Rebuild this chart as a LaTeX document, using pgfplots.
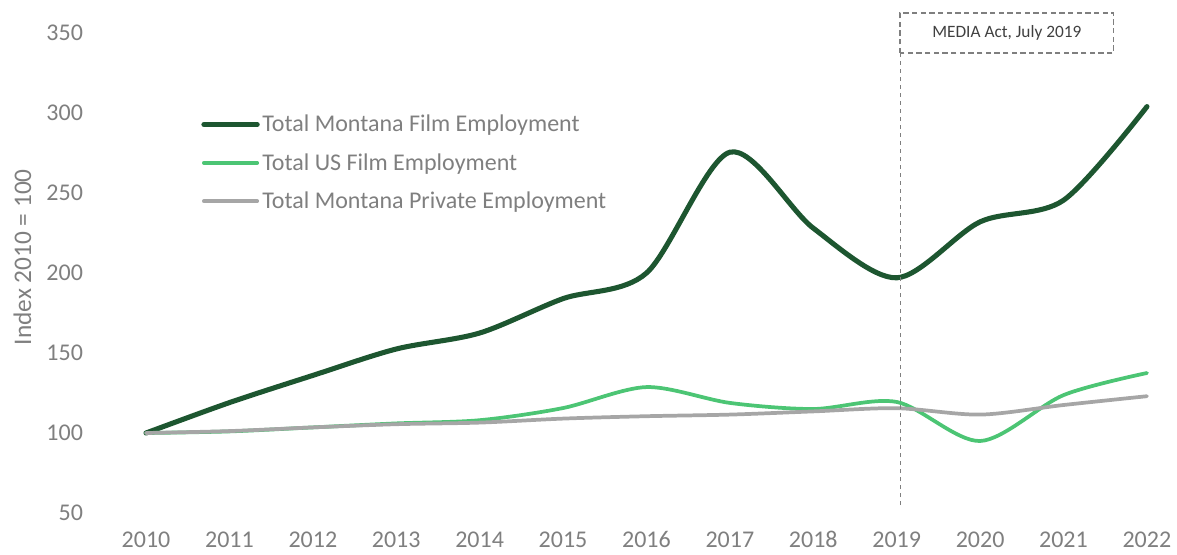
\documentclass[border=0pt]{standalone}
\usepackage{pgfplots}
\pgfplotsset{compat=1.18}
\usepackage{fontspec}
\setmainfont{Carlito}
\definecolor{darkg}{HTML}{1D5630}
\definecolor{lightg}{HTML}{4CC574}
\definecolor{grayl}{HTML}{A6A6A6}
\definecolor{txt}{HTML}{7F7F7F}
\begin{document}
\begin{tikzpicture}[x=1pt,y=1pt]
\begin{axis}[
  scale only axis,
  width=794.25pt, height=360pt,
  xmin=2009.604, xmax=2022.3,
  ymin=50, ymax=350,
  xtick={2010,...,2022},
  ytick={50,100,...,350},
  /pgf/number format/assume math mode=true,
  /pgf/number format/1000 sep={},
  axis line style={draw=none},
  major tick length=0pt,
  tick label style={font=\fontsize{18}{21}\selectfont, text=txt},
  x tick label style={text height=12.5pt, text depth=0pt},
  yticklabel shift=19pt,
  xticklabel shift=10pt,
  ylabel={Index 2010 = 100},
  every axis y label/.style={at={(axis description cs:0,0.533)}, xshift=-68pt, rotate=90, anchor=center, font=\fontsize{19}{22}\selectfont, text=txt},
  clip=false,
  legend style={draw=none, fill=none, at={(axis cs:2010.66,300.5)}, anchor=north west,
    font=\fontsize{18}{21}\selectfont, text=txt, row sep=10.8pt, inner sep=0pt},
  legend cell align=left,
  legend image code/.code={\draw[#1] (0pt,0pt) -- (40pt,0pt);},
]
\addplot[darkg, line width=3.8pt, smooth, line cap=round] coordinates {
(2010,100) (2011,119) (2012,136) (2013,152.5) (2014,162.5) (2015,184) (2016,200) (2017,275.5) (2018,228) (2019,197) (2020,232) (2021,245.5) (2022,304)};
\addlegendentry{Total Montana Film Employment}
\addplot[lightg, line width=2.8pt, smooth, line cap=round] coordinates {
(2010,100) (2011,101) (2012,103.5) (2013,106) (2014,108) (2015,115.6) (2016,128.7) (2017,118.8) (2018,115) (2019,119.4) (2020,95) (2021,123.7) (2022,137.5)};
\addlegendentry{Total US Film Employment}
\addplot[grayl, line width=2.8pt, smooth, line cap=round] coordinates {
(2010,100) (2011,101.2) (2012,103.5) (2013,105.5) (2014,106.5) (2015,109) (2016,110.5) (2017,111.5) (2018,113.5) (2019,115.5) (2020,111.5) (2021,117.5) (2022,123)};
\addlegendentry{Total Montana Private Employment}
\draw[txt, dashed, line width=0.6pt] (axis cs:2019.04,55) -- (axis cs:2019.04,337.5);
\draw[txt, line width=1.1pt, dash pattern=on 4pt off 2.5pt] (axis cs:2019.04,337.5) rectangle (axis cs:2021.6,362.5);
\node[text=black!75, font=\fontsize{13}{15}\selectfont] at (axis cs:2020.32,350) {MEDIA Act, July 2019};
\end{axis}
\pgfresetboundingbox
\useasboundingbox ([xshift=-84.75pt, yshift=-30.75pt]current axis.south west) rectangle ([xshift=3.75pt, yshift=24.75pt]current axis.north east);
\end{tikzpicture}
\end{document}
